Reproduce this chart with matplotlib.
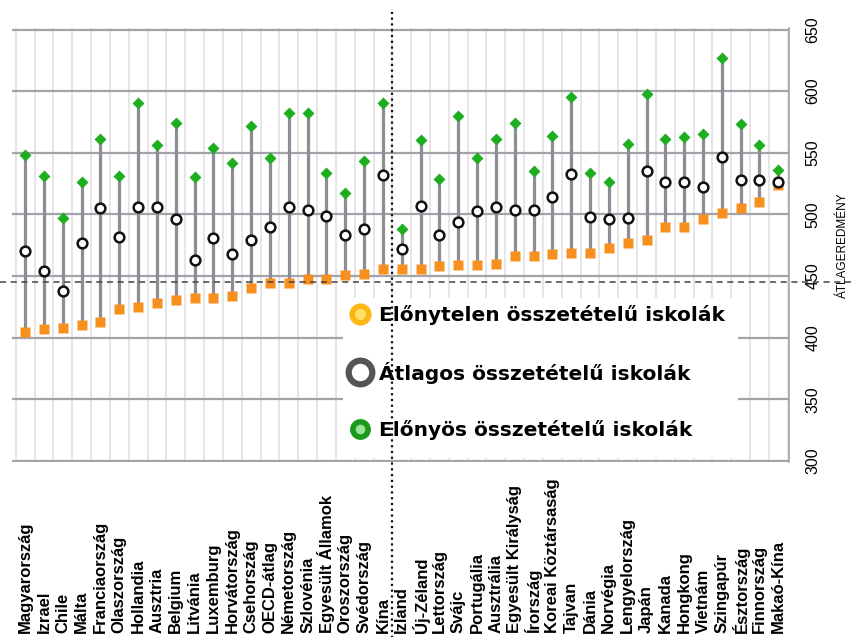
import numpy as np
import matplotlib
matplotlib.use('Agg')
import matplotlib.pyplot as plt
from matplotlib.lines import Line2D
from matplotlib.patches import Rectangle
import matplotlib.transforms as mtransforms

# országok, sorrendben az előnytelen iskolák eredménye szerint
countries = ['Magyarország', 'Izrael', 'Chile', 'Málta', 'Franciaország', 'Olaszország',
             'Hollandia', 'Ausztria', 'Belgium', 'Litvánia', 'Luxemburg', 'Horvátország',
             'Csehország', 'OECD-átlag', 'Németország', 'Szlovénia', 'Egyesült Államok',
             'Oroszország', 'Svédország', 'Kína', 'Izland', 'Új-Zéland', 'Lettország',
             'Svájc', 'Portugália', 'Ausztrália', 'Egyesült Királyság', 'Írország',
             'Koreai Köztársaság', 'Tajvan', 'Dánia', 'Norvégia', 'Lengyelország', 'Japán',
             'Kanada', 'Hongkong', 'Vietnám', 'Szingapúr', 'Észtország', 'Finnország',
             'Makaó-Kína']

# előnytelen összetételű iskolák
low = [405, 407, 408, 410, 413, 423, 425, 428, 431, 432, 432, 434, 440, 444, 444, 448,
       448, 451, 452, 456, 456, 456, 458, 459, 459, 460, 466, 466, 468, 469, 469, 473,
       477, 479, 490, 490, 496, 501, 505, 510, 524]
# átlagos összetételű iskolák
avg = [470, 454, 438, 477, 505, 482, 506, 506, 496, 463, 481, 468, 479, 490, 506, 504,
       499, 483, 488, 532, 472, 507, 483, 494, 503, 506, 504, 504, 514, 533, 498, 496,
       497, 535, 526, 526, 522, 547, 528, 528, 526]
# előnyös összetételű iskolák
high = [548, 531, 497, 526, 561, 531, 590, 556, 574, 530, 554, 542, 572, 546, 582, 582,
        534, 517, 543, 590, 488, 560, 529, 580, 546, 561, 574, 535, 564, 595, 534, 526,
        557, 598, 561, 563, 565, 627, 573, 556, 536]

yticks = [300, 350, 400, 450, 500, 550, 600, 650]
legend_labels = ['Előnytelen összetételű iskolák', 'Átlagos összetételű iskolák',
                 'Előnyös összetételű iskolák']

arial = ['Liberation Sans', 'DejaVu Sans']

fig = plt.figure(figsize=(8.57, 6.37), dpi=100)
ax = fig.add_axes([0.014, 0.2743, 0.9067, 0.6813])

x = np.arange(len(countries))

ax.vlines(x, low, high, color='#8d8d97', lw=2.3, zorder=2)
ax.plot(x, low, 's', ms=6.8, color='#f7901e', mec='none', zorder=3)
ax.plot(x, avg, 'o', ms=7, mfc='white', mec='#111111', mew=1.8, zorder=4)
ax.plot(x, high, 'D', ms=6.5, color='#1fae1f', mec='none', zorder=4)

ax.set_xlim(-0.7, 40.57)
ax.set_ylim(299, 651)
ax.set_yticks(yticks)
ax.set_xticks([])
ax.set_xticks(np.arange(-0.5, len(countries)), minor=True)
ax.grid(axis='y', which='major', color='#a3a3ab', lw=1.6, zorder=0)
ax.grid(axis='x', which='minor', color='#e2e2e2', lw=1.2, zorder=0)
ax.set_axisbelow(True)

for s in ['top', 'left', 'bottom']:
    ax.spines[s].set_visible(False)
ax.spines['right'].set_color('#a3a3ab')
ax.spines['right'].set_linewidth(1.2)

ax.yaxis.tick_right()
ax.yaxis.set_label_position('right')
ax.tick_params(axis='y', which='both', length=0, pad=12, labelrotation=90)
ax.tick_params(axis='x', which='both', length=0)
for lbl in ax.get_yticklabels():
    lbl.set_family(arial)
    lbl.set_fontsize(11.5)
    lbl.set_va('center')
ax.set_ylabel('ÁTLAGEREDMÉNY', family=arial, fontsize=8.5, labelpad=12)

# országnevek alulra igazítva
trans = mtransforms.blended_transform_factory(ax.transData, ax.transAxes)
for i, name in enumerate(countries):
    ax.text(i, -0.393, name, transform=trans, rotation=90, ha='center', va='bottom',
            family=arial, fontweight='bold', fontsize=12)

# szaggatott vízszintes és pontozott függőleges vonal
ax.axhline(445, xmin=-0.016, xmax=1.08, color='#444444', lw=1.1, ls=(0, (4, 3)),
           clip_on=False, zorder=3)
ax.axvline(19.5, ymin=-0.41, ymax=1.038, color='#111111', lw=1.6, ls=(0, (1, 1.6)),
           clip_on=False, zorder=7)

# fehér háttér a jelmagyarázat alatt
ax.add_patch(Rectangle((0.426, 0.01), 0.508, 0.369, transform=ax.transAxes,
                       facecolor='white', edgecolor='none', zorder=5))

handles = [
    Line2D([], [], ls='none', marker='o', ms=12, mfc='#ffe066', mec='#fbb814', mew=4),
    Line2D([], [], ls='none', marker='o', ms=17, mfc='white', mec='#555555', mew=4.5),
    Line2D([], [], ls='none', marker='o', ms=11, mfc='#9be39b', mec='#1a9a1a', mew=4),
]
leg = ax.legend(handles, legend_labels, loc='upper left', bbox_to_anchor=(0.426, 0.378),
                borderaxespad=0, frameon=False,
                prop=dict(family='DejaVu Sans', weight='bold', size=14.5),
                labelspacing=1.8, handlelength=1.0, handletextpad=0.45, borderpad=0.35)
leg.set_zorder(6)

fig.savefig('out.png', dpi=100)
